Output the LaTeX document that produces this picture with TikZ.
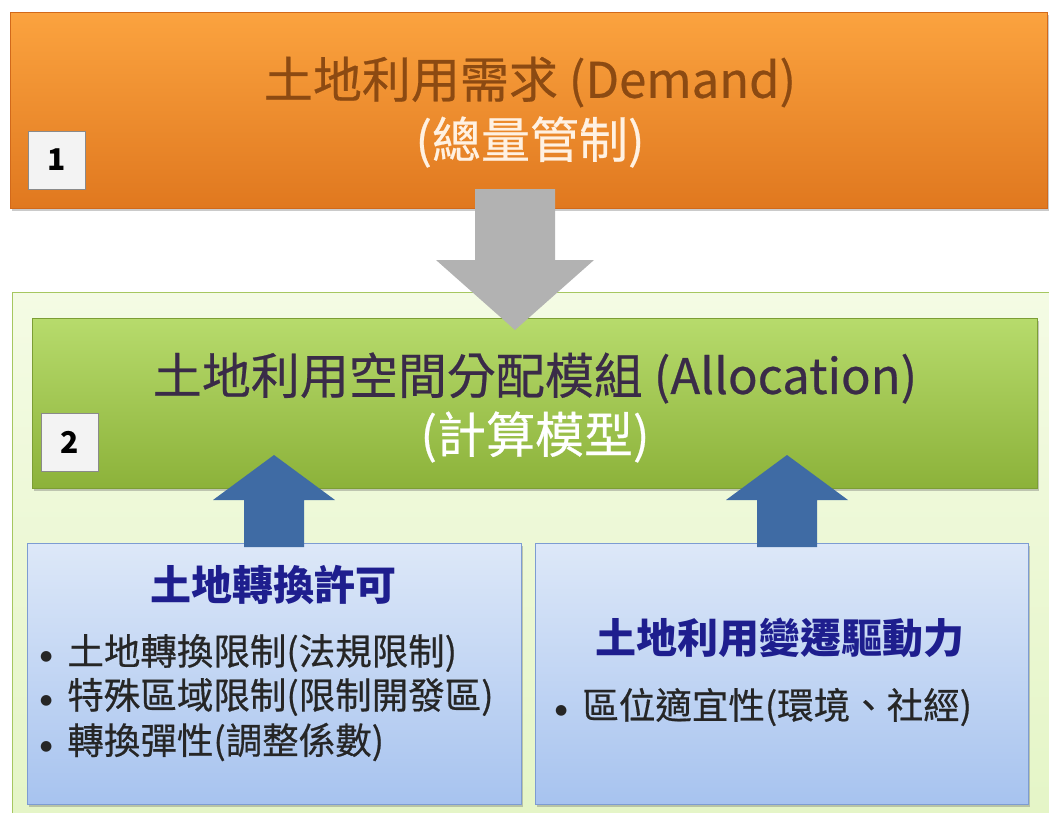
\documentclass[tikz,border=0pt]{standalone}
\usepackage{fontspec}
\setmainfont{Noto Sans CJK TC}
\newfontfamily\rg[FakeBold=0.5]{Noto Sans CJK TC}
\newfontfamily\dv{DejaVu Sans}
\usetikzlibrary{shadows}
\definecolor{orTop}{HTML}{FBA33F}
\definecolor{orBot}{HTML}{E0781F}
\definecolor{orLine}{HTML}{D2691A}
\definecolor{orText}{HTML}{8C4A12}
\definecolor{orSub}{HTML}{FFF1E2}
\definecolor{pnFill}{HTML}{E4F5C6}
\definecolor{pnTop}{HTML}{F4FBE4}
\definecolor{pnLine}{HTML}{A6C760}
\definecolor{grTop}{HTML}{B7DB6C}
\definecolor{grBot}{HTML}{8CB23A}
\definecolor{grLine}{HTML}{7C9E34}
\definecolor{grText}{HTML}{3A2B48}
\definecolor{arGray}{HTML}{B2B2B2}
\definecolor{arBlue}{HTML}{3F6BA4}
\definecolor{blTop}{HTML}{DDE8F8}
\definecolor{blBot}{HTML}{A7C3EF}
\definecolor{blLine}{HTML}{7D9CD2}
\definecolor{blHead}{HTML}{1E1E8E}
\definecolor{txDark}{HTML}{262626}
\definecolor{numFill}{HTML}{F3F3F3}
\definecolor{numLine}{HTML}{8A8A8A}
\newcommand{\bdot}{{\dv\fontsize{14}{14}\selectfont\raisebox{4pt}{●}}\hspace{15pt}}
\tikzset{
  box/.style={anchor=north west, inner sep=0pt, outer sep=0pt},
  shad/.style={drop shadow={shadow xshift=2pt, shadow yshift=-3pt, opacity=0.35, fill=black!60}},
  numbox/.style={box, draw=numLine, fill=numFill, line width=0.8pt, minimum width=57pt, minimum height=58pt, font=\fontsize{30}{30}\selectfont\bfseries, text=black},
  bullet/.style={anchor=west, inner sep=0pt, text=txDark, font=\rg\fontsize{36.5}{36.5}\selectfont},
  title/.style={font=\rg\fontsize{49}{49}\selectfont},
  head/.style={text=blHead, font=\fontsize{41}{41}\selectfont\bfseries}
}
\begin{document}
\begin{tikzpicture}[x=1pt,y=-1pt]
\useasboundingbox (0,0) rectangle (1049,812);
\clip (0,0) rectangle (1049,812);
% light green panel
\node[box, draw=pnLine, line width=1pt, top color=pnTop, bottom color=pnFill, minimum width=1050pt, minimum height=540pt] (panel) at (12,292) {};
% orange demand box
\node[box, shad, draw=orLine, line width=1pt, top color=orTop, bottom color=orBot, minimum width=1037pt, minimum height=196pt] (demand) at (10,12) {};
\node[title, text=orText] (dtitle) at (530,82) {土地利用需求 (Demand)};
\node[title, text=orSub] (dsub) at (530,142) {(總量管制)};
\node[numbox] (n1) at (28,131) {1};
% green allocation box
\node[box, shad, draw=grLine, line width=1pt, top color=grTop, bottom color=grBot, minimum width=1005pt, minimum height=170pt] (alloc) at (32,318) {};
% gray arrow demand -> allocation
\fill[arGray] (475,189) -- (555,189) -- (555,260) -- (594,260) -- (515,330) -- (436,260) -- (475,260) -- cycle;
\node[title, text=grText] (atitle) at (535,378) {土地利用空間分配模組 (Allocation)};
\node[title, text=white] (asub) at (535,437) {(計算模型)};
\node[numbox] (n2) at (41,413) {2};
% blue boxes
\node[box, shad, draw=blLine, line width=1pt, top color=blTop, bottom color=blBot, minimum width=494pt, minimum height=261pt] (permit) at (27,543) {};
\node[box, shad, draw=blLine, line width=1pt, top color=blTop, bottom color=blBot, minimum width=493pt, minimum height=261pt] (driver) at (535,543) {};
% blue arrows
\fill[arBlue] (244,547) -- (304,547) -- (304,500) -- (335,500) -- (274,455) -- (213,500) -- (244,500) -- cycle;
\fill[arBlue] (757,547) -- (817,547) -- (817,500) -- (848,500) -- (787,455) -- (726,500) -- (757,500) -- cycle;
% texts in blue boxes
\node[head] (ptitle) at (273,585) {土地轉換許可};
\node[bullet] (p1) at (40,653) {\bdot 土地轉換限制(法規限制)};
\node[bullet] (p2) at (40,697) {\bdot 特殊區域限制(限制開發區)};
\node[bullet] (p3) at (40,742) {\bdot 轉換彈性(調整係數)};
\node[head] (dtitle2) at (780,638) {土地利用變遷驅動力};
\node[bullet] (d1) at (555,707) {\bdot 區位適宜性(環境、社經)};
\end{tikzpicture}
\end{document}
